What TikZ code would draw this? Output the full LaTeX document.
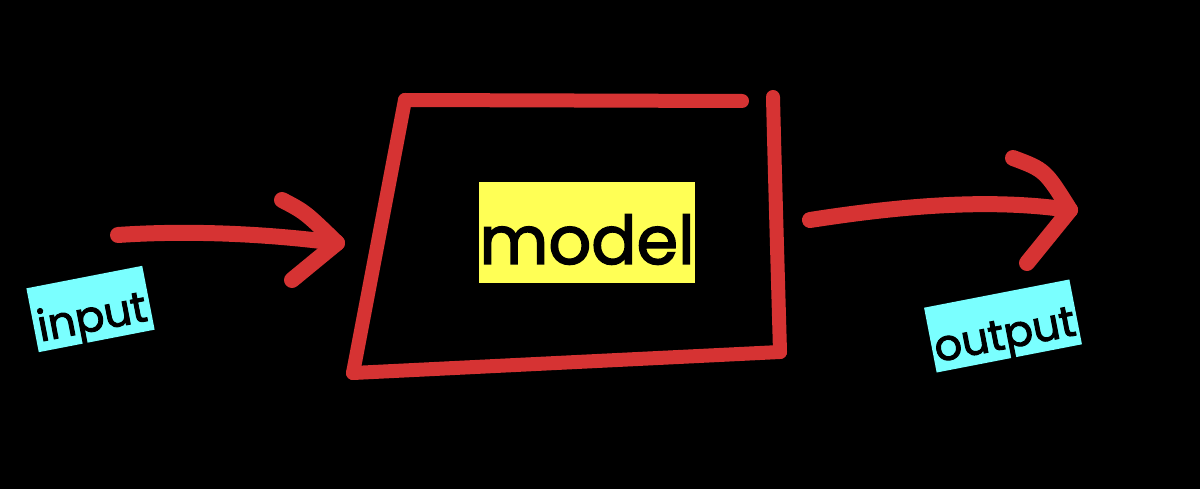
\documentclass[tikz,border=0pt]{standalone}
\usepackage{fontspec}
\setmainfont{Poppins}
\newfontfamily\medfont{Poppins}[FakeBold=2.2]
\definecolor{penred}{RGB}{214,51,51}
\definecolor{hlyellow}{RGB}{255,255,85}
\definecolor{hlcyan}{RGB}{122,255,255}
\begin{document}
\begin{tikzpicture}[x=1pt,y=-1pt,
  stroke/.style={draw=penred,line width=14pt,line cap=round,line join=round},
  arrowstroke/.style={draw=penred,line width=16pt,line cap=round,line join=round},
  tag/.style={fill=hlcyan,inner sep=0pt,rotate=11,text=black,font=\medfont\fontsize{43}{43}\selectfont},
  modeltag/.style={fill=hlyellow,inner sep=0pt,text=black,font=\medfont\fontsize{67}{67}\selectfont}]
\fill[black] (0,0) rectangle (1200,489);
\useasboundingbox (0,0) rectangle (1200,489);
% trapezoid corners
\coordinate (tl) at (405,100);
\coordinate (tr) at (742,101);
\coordinate (rt) at (773,97);
\coordinate (rb) at (780,352);
\coordinate (bl) at (353,373);
\draw[stroke] (tl) -- (tr);
\draw[stroke] (rt) .. controls (775,180) and (778,280) .. (rb);
\draw[stroke] (rb) -- (bl);
\draw[stroke] (bl) -- (tl);
% model label
\node[modeltag,minimum width=216pt,text height=82pt,text depth=19pt] (model) at (587,232.5) {model};
% input arrow
\coordinate (inStart) at (118,235);
\coordinate (inTip) at (337,243);
\coordinate (inArmA) at (282,200);
\coordinate (inArmB) at (292,280);
\draw[arrowstroke] (inStart) .. controls (190,230) and (270,234) .. (inTip);
\draw[arrowstroke] (inArmA) .. controls (305,212) .. (inTip) -- (inArmB);
% output arrow
\coordinate (outStart) at (810,220);
\coordinate (outTip) at (1070,210);
\coordinate (outArmA) at (1013,158);
\coordinate (outArmB) at (1027,263);
\draw[arrowstroke] (outStart) .. controls (900,206) and (990,198) .. (outTip);
\draw[arrowstroke] (outArmA) .. controls (1045,170) .. (outTip) -- (outArmB);
% labels
\node[tag,minimum width=118pt,text height=55pt,text depth=10pt] (input) at (90.5,309) {input};
\node[tag,minimum width=148pt,text height=56pt,text depth=10pt] (output) at (1003,326) {output};
\end{tikzpicture}
\end{document}
